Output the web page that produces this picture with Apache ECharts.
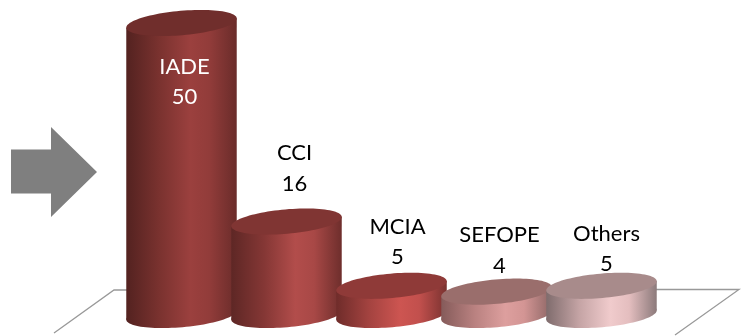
<!DOCTYPE html>
<html>
<head>
<meta charset="utf-8">
<style>html,body{margin:0;padding:0;background:#fff}#chart{width:745px;height:336px}</style>
<script src="https://cdn.jsdelivr.net/npm/echarts@6/dist/echarts.min.js"></script>
</head>
<body>
<div id="chart"></div>
<script>
const categories = ['IADE', 'CCI', 'MCIA', 'SEFOPE', 'Others'];
const counts = [50, 16, 5, 4, 5];

// Layout and shading of each cylinder, kept apart from the data
const labelShift = [[3, 59], [8, -53], [6, -44], [3, -41], [5, -37]];
const labelColors = ['#ffffff', '#000000', '#000000', '#000000', '#000000'];
const sideStops = [
  ['#532220', '#7a322f', '#9b403e', '#923c3a', '#6a2c2a'],
  ['#5e2725', '#853735', '#b24d4b', '#a84846', '#6e2e2c'],
  ['#6f2c2a', '#a44340', '#cd5551', '#c2504d', '#7a3230'],
  ['#855b5a', '#b98180', '#dd9f9e', '#d39594', '#8d6665'],
  ['#7f6c6d', '#c5a4a5', '#f0cbcc', '#e4bebf', '#8c7a7b']
];
const capColors = ['#702e2c', '#803533', '#8f3a38', '#9a6e6c', '#a88b8b'];

const TILT = 5 * Math.PI / 180;
const RY = 12.2;

// Outline of a tilted ellipse, in screen space so a shared side gradient stays aligned
function tiltedEllipse(cx, cy, rx) {
  const pts = [];
  for (let k = 0; k < 96; k++) {
    const t = k / 96 * 2 * Math.PI;
    const ex = rx * Math.cos(t);
    const ey = RY * Math.sin(t);
    pts.push([cx + ex * Math.cos(TILT) + ey * Math.sin(TILT),
              cy - ex * Math.sin(TILT) + ey * Math.cos(TILT)]);
  }
  return pts;
}

function renderCylinder(params, api) {
  const i = params.dataIndex;
  const top = api.coord([api.value(0), api.value(1)]);
  const base = api.coord([api.value(0), 0]);
  const rx = api.size([1, 0])[0] * 0.528;
  const cx = top[0];
  const lift = rx * Math.sin(TILT);
  const run = rx * Math.cos(TILT);
  const s = sideStops[i];
  const side = new echarts.graphic.LinearGradient(cx - run, 0, cx + run, 0, [
    { offset: 0, color: s[0] },
    { offset: 0.3, color: s[1] },
    { offset: 0.58, color: s[2] },
    { offset: 0.75, color: s[3] },
    { offset: 1, color: s[4] }
  ], true);
  const ellipse = (cy, fill) => ({
    type: 'polygon',
    shape: { points: tiltedEllipse(cx, cy, rx) },
    style: { fill: fill }
  });
  return {
    type: 'group',
    children: [
      ellipse(base[1], side),
      {
        type: 'polygon',
        shape: { points: [
          [cx - run, top[1] + lift], [cx + run, top[1] - lift],
          [cx + run, base[1] - lift], [cx - run, base[1] + lift]
        ] },
        style: { fill: side }
      },
      ellipse(top[1], capColors[i]),
      {
        type: 'text',
        x: cx + labelShift[i][0],
        y: top[1] + labelShift[i][1],
        style: {
          text: categories[i] + '\n' + counts[i],
          fill: labelColors[i],
          font: '22px Lato',
          lineHeight: 30.5,
          align: 'center',
          verticalAlign: 'middle'
        }
      }
    ]
  };
}

const chart = echarts.init(document.getElementById('chart'));
chart.setOption({
  animation: false,
  grid: { left: 129, width: 525, top: 23, bottom: 21 },
  xAxis: { type: 'category', data: categories, show: false },
  yAxis: { type: 'value', min: 0, max: 50, show: false },
  graphic: [
    // Floor outline behind the cylinders
    {
      type: 'polyline', z: 0,
      shape: { points: [[54, 333], [114, 290], [128, 290]] },
      style: { stroke: '#999999', lineWidth: 1.3, fill: null }
    },
    {
      type: 'polyline', z: 0,
      shape: { points: [[655, 289.5], [739, 289.5], [675, 335]] },
      style: { stroke: '#999999', lineWidth: 1.3, fill: null }
    },
    // Pointer on the left
    {
      type: 'polygon', z: 0,
      shape: { points: [[11, 149.5], [51, 149.5], [51, 127], [97, 172], [51, 217], [51, 193.5], [11, 193.5]] },
      style: { fill: '#7f7f7f' }
    }
  ],
  series: [{
    type: 'custom',
    coordinateSystem: 'cartesian2d',
    clip: false,
    z: 5,
    renderItem: renderCylinder,
    data: categories.map((c, i) => [i, counts[i]])
  }]
});
</script>
</body>
</html>
